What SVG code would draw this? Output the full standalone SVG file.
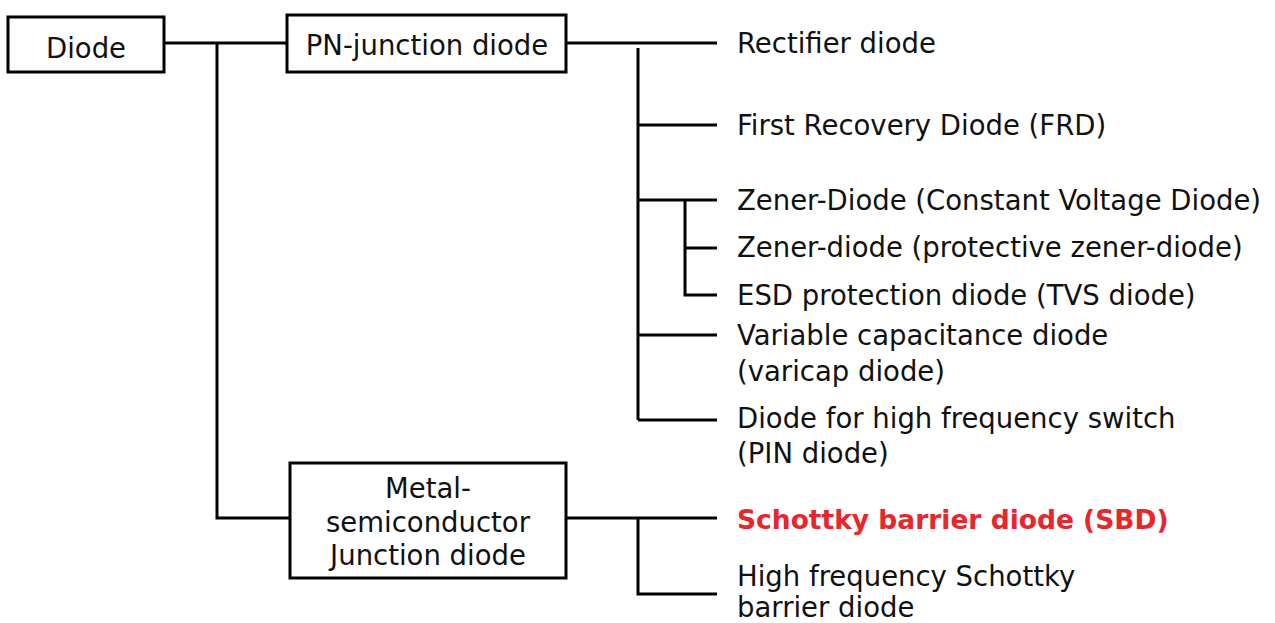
<svg xmlns="http://www.w3.org/2000/svg" width="1275" height="623" viewBox="0 0 1275 623">
<style>
.box{fill:#fff;stroke:#000;stroke-width:3}
.ln{fill:none;stroke:#000;stroke-width:3}
text{font-family:"DejaVu Sans","Noto Sans",sans-serif;font-size:27.5px;fill:#111}
.c{text-anchor:middle}
.red{fill:#e8262b;font-weight:bold;font-size:26.5px}
</style>
<rect width="1275" height="623" fill="#fff"/>
<g id="connectors">
<path class="ln" d="M164,43H287M217,43V518H290"/>
<path class="ln" d="M566,43H717M638,48V420M638,125H717M638,200H717M685,200V295H717M685,248H717M638,335H717M638,420H717"/>
<path class="ln" d="M566,518H717M638,518V594H717"/>
</g>
<g id="n-diode"><rect class="box" x="8" y="17" width="156" height="55"/><text class="c" x="86" y="58">Diode</text></g>
<g id="n-pn"><rect class="box" x="287" y="15" width="279" height="57"/><text class="c" x="427" y="55">PN-junction diode</text></g>
<g id="n-ms"><rect class="box" x="290" y="463" width="276" height="115"/><text class="c" x="428" y="498">Metal-</text><text class="c" x="428" y="532">semiconductor</text><text class="c" x="428" y="565">Junction diode</text></g>
<g id="n-rect"><text x="737" y="53">Rectifier diode</text></g>
<g id="n-frd"><text x="737" y="135">First Recovery Diode (FRD)</text></g>
<g id="n-zener1"><text x="737" y="210">Zener-Diode (Constant Voltage Diode)</text></g>
<g id="n-zener2"><text x="737" y="257">Zener-diode (protective zener-diode)</text></g>
<g id="n-esd"><text x="737" y="305">ESD protection diode (TVS diode)</text></g>
<g id="n-var"><text x="737" y="345">Variable capacitance diode</text><text x="737" y="381">(varicap diode)</text></g>
<g id="n-pin"><text x="737" y="428">Diode for high frequency switch</text><text x="737" y="463">(PIN diode)</text></g>
<g id="n-sbd"><text class="red" x="737" y="529">Schottky barrier diode (SBD)</text></g>
<g id="n-hfsbd"><text x="737" y="586">High frequency Schottky</text><text x="737" y="617">barrier diode</text></g>
</svg>
